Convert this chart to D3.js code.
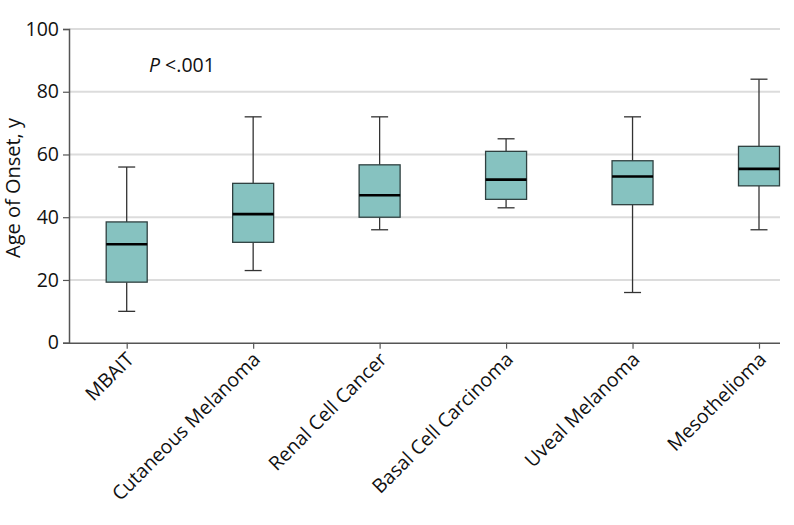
<!DOCTYPE html>
<html><head><meta charset="utf-8">
<script src="https://cdn.jsdelivr.net/npm/d3@7"></script>
<style>body{margin:0;background:#fff}svg{display:block}text{font-family:"Open Sans",sans-serif;fill:#111}</style>
</head><body>
<svg id="c" width="794" height="525"></svg>
<script>
const categories = ["MBAIT","Cutaneous Melanoma","Renal Cell Cancer","Basal Cell Carcinoma","Uveal Melanoma","Mesothelioma"];
const whiskerLow = [10, 23, 36, 43, 16, 36];
const q1 = [19.3, 32, 40, 45.7, 44, 50];
const median = [31.4, 41, 47, 52, 53, 55.4];
const q3 = [38.5, 50.8, 56.7, 61, 58, 62.6];
const whiskerHigh = [56, 72, 72, 65, 72, 84];
const yTicks = [0, 20, 40, 60, 80, 100];

(function(){
const svg = d3.select("#c");
const pLeft = 69, pRight = 780, pTop = 29, pBottom = 342.7;
const fs = "19.5px";
const y = d3.scaleLinear().domain([0,100]).range([pBottom, pTop]);
const x = d3.scalePoint().domain(categories).range([126.7, 759]);

// gridlines
svg.append("g").selectAll("line").data(yTicks.filter(d=>d>0)).join("line")
  .attr("x1", pLeft).attr("x2", pRight).attr("y1", d=>y(d)).attr("y2", d=>y(d))
  .attr("stroke", "#dcdcdc").attr("stroke-width", 2);

// y axis
const ya = svg.append("g").attr("transform", `translate(${pLeft},0)`)
  .call(d3.axisLeft(y).tickValues(yTicks).tickSize(6).tickPadding(4));
ya.select(".domain").attr("stroke", "#555").attr("stroke-width", 1.5);
ya.selectAll(".tick line").attr("stroke", "#555").attr("stroke-width", 1.2);
ya.selectAll(".tick text").style("font-size", fs).attr("fill", "#111");

// x axis
const xa = svg.append("g").attr("transform", `translate(0,${pBottom})`)
  .call(d3.axisBottom(x).tickSize(6).tickSizeOuter(0));
xa.select(".domain").attr("d", `M${pLeft},0.5H${pRight}`).attr("stroke", "#555").attr("stroke-width", 1.5);
xa.selectAll(".tick line").attr("stroke", "#555").attr("stroke-width", 1.2);
xa.selectAll(".tick text")
  .style("font-size", fs).attr("fill", "#111")
  .attr("text-anchor", "end")
  .attr("transform", "translate(3,13) rotate(-45)")
  .attr("x", 0).attr("y", 0).attr("dy", "0.35em");

// boxes
const bw = 41, cw = 17;
const g = svg.append("g").selectAll("g").data(categories).join("g");
g.append("line").attr("x1", d=>x(d)).attr("x2", d=>x(d))
  .attr("y1", (d,i)=>y(whiskerHigh[i])).attr("y2", (d,i)=>y(q3[i]))
  .attr("stroke", "#333").attr("stroke-width", 1.3);
g.append("line").attr("x1", d=>x(d)).attr("x2", d=>x(d))
  .attr("y1", (d,i)=>y(whiskerLow[i])).attr("y2", (d,i)=>y(q1[i]))
  .attr("stroke", "#333").attr("stroke-width", 1.3);
g.append("line").attr("x1", d=>x(d)-cw/2).attr("x2", d=>x(d)+cw/2)
  .attr("y1", (d,i)=>y(whiskerHigh[i])).attr("y2", (d,i)=>y(whiskerHigh[i]))
  .attr("stroke", "#333").attr("stroke-width", 1.3);
g.append("line").attr("x1", d=>x(d)-cw/2).attr("x2", d=>x(d)+cw/2)
  .attr("y1", (d,i)=>y(whiskerLow[i])).attr("y2", (d,i)=>y(whiskerLow[i]))
  .attr("stroke", "#333").attr("stroke-width", 1.3);
g.append("rect").attr("x", d=>x(d)-bw/2).attr("width", bw)
  .attr("y", (d,i)=>y(q3[i])).attr("height", (d,i)=>y(q1[i])-y(q3[i]))
  .attr("fill", "#86c2c0").attr("stroke", "#2f4040").attr("stroke-width", 1.3);
g.append("line").attr("x1", d=>x(d)-bw/2).attr("x2", d=>x(d)+bw/2)
  .attr("y1", (d,i)=>y(median[i])).attr("y2", (d,i)=>y(median[i]))
  .attr("stroke", "#000").attr("stroke-width", 2.6);

// P value
const pt = svg.append("text").attr("x", 149).attr("y", 72).style("font-size", fs);
pt.append("tspan").style("font-style", "italic").text("P");
pt.append("tspan").text(" <.001");

// y label
svg.append("text").attr("transform", "translate(20,188) rotate(-90)")
  .attr("text-anchor", "middle").style("font-size", "20px").text("Age of Onset, y");
})();
</script>
</body></html>
